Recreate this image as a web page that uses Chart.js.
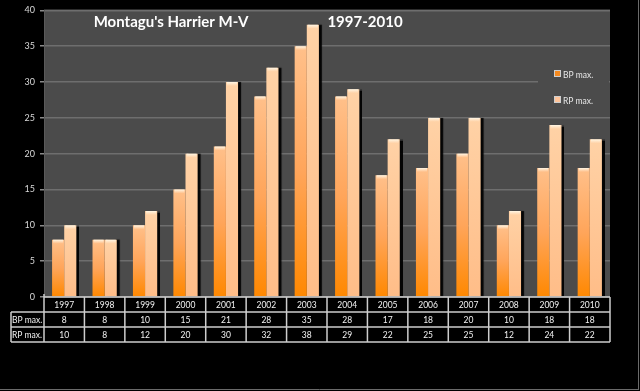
<!DOCTYPE html>
<html>
<head>
<meta charset="utf-8">
<script src="https://cdn.jsdelivr.net/npm/chart.js@4"></script>
<style>
html,body{margin:0;padding:0;background:#000;}
canvas{display:block;}
</style>
</head>
<body>
<canvas id="c" width="640" height="391"></canvas>
<script>
const years = ['1997','1998','1999','2000','2001','2002','2003','2004','2005','2006','2007','2008','2009','2010'];
const bpMax = [8,8,10,15,21,28,35,28,17,18,20,10,18,18];
const rpMax = [10,8,12,20,30,32,38,29,22,25,25,12,24,22];
const seriesLabels = ['BP max.','RP max.'];
const titleMain = "Montagu's Harrier M-V";
const titleYears = '1997-2010';
const yMin = 0, yMax = 40, yStep = 5;

function barGradient(ctx, top, bottom, stops) {
  const g = ctx.createLinearGradient(0, top, 0, bottom);
  stops.forEach(s => g.addColorStop(s[0], s[1]));
  return g;
}
function scriptColor(stops, solid) {
  return function(context) {
    const chart = context.chart;
    const ys = chart.scales.y;
    if (!chart.chartArea || !ys || context.parsed == null || context.parsed.y == null) return solid;
    const top = ys.getPixelForValue(context.parsed.y);
    const bottom = ys.getPixelForValue(0);
    if (!isFinite(top) || !isFinite(bottom) || bottom - top < 1) return solid;
    return barGradient(chart.ctx, top, bottom, stops);
  };
}

const bgPlugin = {
  id: 'bgPlugin',
  beforeDraw(chart) {
    const {ctx, chartArea: a} = chart;
    ctx.save();
    ctx.fillStyle = '#000';
    ctx.fillRect(0, 0, chart.width, chart.height);
    ctx.fillStyle = '#4b4b4b';
    ctx.fillRect(a.left, a.top - 1, a.right - a.left, a.bottom - a.top + 1);
    ctx.restore();
  },
  beforeDatasetDraw(chart, args) {
    const ctx = chart.ctx;
    ctx.save();
    if (args.index === 1) {
      ctx.shadowColor = 'rgba(0,0,0,0.95)';
      ctx.shadowOffsetX = 3;
      ctx.shadowOffsetY = 0;
      ctx.shadowBlur = 1;
    }
  },
  afterDatasetDraw(chart) {
    chart.ctx.restore();
  },
  afterDatasetsDraw(chart) {
    const ctx = chart.ctx;
    ctx.save();
    chart.data.datasets.forEach((ds, di) => {
      const meta = chart.getDatasetMeta(di);
      meta.data.forEach(el => {
        const w = el.width;
        const x0 = el.x - w / 2;
        const g = ctx.createLinearGradient(0, el.y, 0, el.y + 4);
        g.addColorStop(0, 'rgba(255,250,235,0.95)');
        g.addColorStop(1, 'rgba(255,240,220,0)');
        ctx.fillStyle = g;
        ctx.fillRect(x0 + 1, el.y, w - 2, 4);
      });
    });
    ctx.restore();
  },
  afterDraw(chart) {
    const {ctx, chartArea: a} = chart;
    const xs = chart.scales.x;
    ctx.save();
    // Titles
    ctx.fillStyle = '#ffffff';
    ctx.font = 'bold 15px Lato, "Open Sans", sans-serif';
    ctx.textAlign = 'center';
    ctx.textBaseline = 'middle';
    ctx.fillText(titleMain, 171, 22);
    ctx.fillText(titleYears, 365, 22);

    // Legend box
    ctx.fillStyle = '#4b4b4b';
    ctx.fillRect(538, 62, 71, 50);
    const legendY = [74, 100];
    const legendColors = ['#f58a1f', '#ffc49a'];
    ctx.font = '8.5px Lato, "Open Sans", sans-serif';
    ctx.textAlign = 'left';
    seriesLabels.forEach((lab, i) => {
      ctx.fillStyle = '#cfcfcf';
      ctx.fillRect(554, legendY[i] - 4, 7, 7);
      ctx.fillStyle = legendColors[i];
      ctx.fillRect(555, legendY[i] - 3, 5, 5);
      ctx.fillStyle = '#e8e8e8';
      ctx.fillText(lab, 563, legendY[i] + 1);
    });

    // Data table
    const n = years.length;
    const half = (xs.getPixelForValue(1) - xs.getPixelForValue(0)) / 2;
    const rowTop = a.bottom;
    const rowH = 15;
    const rows = [rowTop, rowTop + rowH, rowTop + 2 * rowH, rowTop + 3 * rowH];
    const headLeft = 11;
    ctx.strokeStyle = '#cdcdcd';
    ctx.lineWidth = 1.5;
    ctx.beginPath();
    ctx.moveTo(a.left, rows[0]); ctx.lineTo(a.right, rows[0]);
    ctx.moveTo(headLeft, rows[1]); ctx.lineTo(a.right, rows[1]);
    ctx.moveTo(headLeft, rows[2]); ctx.lineTo(a.right, rows[2]);
    ctx.moveTo(headLeft, rows[3]); ctx.lineTo(a.right, rows[3]);
    ctx.moveTo(headLeft, rows[1]); ctx.lineTo(headLeft, rows[3]);
    for (let i = 0; i <= n; i++) {
      const x = i < n ? xs.getPixelForValue(i) - half : xs.getPixelForValue(n - 1) + half;
      ctx.moveTo(x, rows[0] - (i === 0 ? 3 : 0)); ctx.lineTo(x, rows[3]);
    }
    ctx.stroke();

    ctx.fillStyle = '#f2f2f2';
    ctx.font = '8.5px Lato, "Open Sans", sans-serif';
    ctx.textAlign = 'center';
    ctx.textBaseline = 'middle';
    for (let i = 0; i < n; i++) {
      const x = xs.getPixelForValue(i);
      ctx.fillText(years[i], x, rows[0] + rowH / 2 + 1);
      ctx.fillText(String(bpMax[i]), x, rows[1] + rowH / 2 + 1);
      ctx.fillText(String(rpMax[i]), x, rows[2] + rowH / 2 + 1);
    }
    ctx.textAlign = 'left';
    ctx.fillText(seriesLabels[0], headLeft + 1, rows[1] + rowH / 2 + 1);
    ctx.fillText(seriesLabels[1], headLeft + 1, rows[2] + rowH / 2 + 1);

    // frame edges
    ctx.strokeStyle = '#6a6a6a';
    ctx.lineWidth = 1;
    ctx.beginPath();
    ctx.moveTo(0, 389.5); ctx.lineTo(639, 389.5);
    ctx.moveTo(638.5, 0); ctx.lineTo(638.5, 390);
    ctx.stroke();
    ctx.restore();
  }
};

new Chart(document.getElementById('c'), {
  type: 'bar',
  data: {
    labels: years,
    datasets: [
      {
        label: seriesLabels[0],
        data: bpMax,
        backgroundColor: scriptColor([[0, '#ffc08a'], [0.5, '#ffa55a'], [1, '#ff8800']], '#ffa050'),
        borderWidth: 0,
        categoryPercentage: 0.6,
        barPercentage: 1.0
      },
      {
        label: seriesLabels[1],
        data: rpMax,
        backgroundColor: scriptColor([[0, '#ffd2a6'], [1, '#ffbd88']], '#ffc898'),
        borderWidth: 0,
        categoryPercentage: 0.6,
        barPercentage: 1.0
      }
    ]
  },
  options: {
    responsive: false,
    devicePixelRatio: 1,
    animation: false,
    layout: { padding: { top: 9, right: 30, left: 0, bottom: 0 } },
    plugins: { legend: { display: false }, title: { display: false }, tooltip: { enabled: false } },
    scales: {
      x: {
        ticks: { display: false },
        grid: { display: false },
        border: { display: false },
        afterFit(s) { s.height = 94; }
      },
      y: {
        min: yMin, max: yMax,
        ticks: { stepSize: yStep, color: '#d8d8d8', font: { size: 9, family: 'Lato, "Open Sans", sans-serif' }, padding: 5 },
        grid: { color: '#6e6e6e', lineWidth: 1.5, drawTicks: true, tickLength: 4, tickColor: '#8a8a8a' },
        border: { display: true, color: '#5a5a5a' },
        afterFit(s) { s.width = 44; }
      }
    }
  },
  plugins: [bgPlugin]
});
</script>
</body>
</html>
